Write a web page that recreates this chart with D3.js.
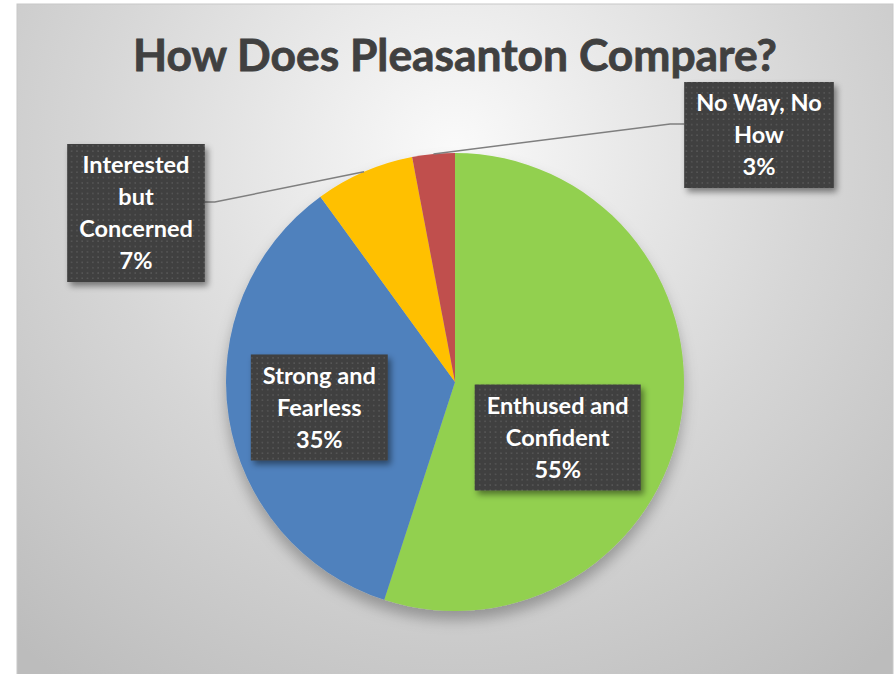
<!DOCTYPE html>
<html>
<head>
<meta charset="utf-8">
<script src="https://cdn.jsdelivr.net/npm/d3@7"></script>
<style>
  body { margin: 0; background: #fff; }
  svg { display: block; }
  text { font-family: Lato, "Open Sans", sans-serif; font-weight: bold; }
</style>
</head>
<body>
<script>
const width = 896;
const height = 674;

// data
const categories = ['Enthused and Confident', 'Strong and Fearless', 'Interested but Concerned', 'No Way, No How'];
const values = [55, 35, 7, 3];
const labelLines = [
  ['Enthused and', 'Confident'],
  ['Strong and', 'Fearless'],
  ['Interested', 'but', 'Concerned'],
  ['No Way, No', 'How'],
];
const colors = ['#92d050', '#4f81bd', '#ffc000', '#c0504d'];

const title = 'How Does Pleasanton Compare?';

// layout
const cx = 455;
const cy = 382;
const radius = 229;
const lineHeight = 32;
const labelFont = 23.5;
// label placement: inside labels nudge off the centroid, outside ones sit at a fixed spot
const labelPlace = [
  { inside: true, dx: -33, dy: 34 },
  { inside: true, dx: 0, dy: 4 },
  { inside: false, x: 136, y: 213, side: 'left' },
  { inside: false, x: 759, y: 135, side: 'right' },
];

const svg = d3.select('body')
  .append('svg')
    .attr('width', width)
    .attr('height', height);

const defs = svg.append('defs');

const bg = defs.append('radialGradient')
  .attr('id', 'bg')
  .attr('gradientUnits', 'userSpaceOnUse')
  .attr('cx', cx).attr('cy', 150).attr('r', 660);
bg.append('stop').attr('offset', 0).attr('stop-color', '#fafafa');
bg.append('stop').attr('offset', 0.55).attr('stop-color', '#d6d6d6');
bg.append('stop').attr('offset', 1).attr('stop-color', '#bcbcbc');

const dots = defs.append('pattern')
  .attr('id', 'dots')
  .attr('patternUnits', 'userSpaceOnUse')
  .attr('width', 5.3).attr('height', 5.3);
dots.append('rect').attr('width', 5.3).attr('height', 5.3).attr('fill', '#3f3f3f');
dots.append('rect').attr('x', 2).attr('y', 2).attr('width', 1.5).attr('height', 1.5).attr('fill', '#5a5a5a');

const pieShadow = defs.append('filter').attr('id', 'pieShadow')
  .attr('x', '-20%').attr('y', '-20%').attr('width', '140%').attr('height', '140%');
pieShadow.append('feDropShadow')
  .attr('dx', 0).attr('dy', 9).attr('stdDeviation', 7)
  .attr('flood-color', '#000').attr('flood-opacity', 0.28);

const boxShadow = defs.append('filter').attr('id', 'boxShadow')
  .attr('x', '-20%').attr('y', '-20%').attr('width', '140%').attr('height', '140%');
boxShadow.append('feDropShadow')
  .attr('dx', 3).attr('dy', 4).attr('stdDeviation', 3)
  .attr('flood-color', '#000').attr('flood-opacity', 0.45);

// chart area
svg.append('rect')
  .attr('x', 17).attr('y', 4)
  .attr('width', 876).attr('height', height)
  .attr('fill', 'url(#bg)')
  .attr('stroke', '#c8c8c8')
  .attr('stroke-width', 1);

// title
const titleText = svg.append('text')
  .attr('x', cx)
  .attr('y', 71)
  .attr('text-anchor', 'middle')
  .attr('fill', '#404040')
  .attr('stroke', '#404040')
  .attr('stroke-width', 0.8)
  .style('font-size', '42px')
  .text(title);
const tw = titleText.node().getComputedTextLength();
titleText.style('font-size', (42 * 644 / tw) + 'px');

const pie = d3.pie()
  .sort(null)
  .value((d) => d);

const arcs = pie(values);

const arc = d3.arc()
  .innerRadius(0)
  .outerRadius(radius);

const labelArc = d3.arc()
  .innerRadius(radius * 0.6)
  .outerRadius(radius * 0.6);

const g = svg.append('g')
  .attr('transform', `translate(${cx},${cy})`);

g.append('g')
  .attr('filter', 'url(#pieShadow)')
  .selectAll('path')
  .data(arcs)
  .join('path')
    .attr('d', arc)
    .attr('fill', (d, i) => colors[i]);

const midAngle = (d) => (d.startAngle + d.endAngle) / 2;

const labels = svg.append('g');

arcs.forEach((d, i) => {
  const lines = labelLines[i].concat([values[i] + '%']);
  const place = labelPlace[i];
  let bx, by;
  if (place.inside) {
    const c = labelArc.centroid(d);
    bx = cx + c[0] + place.dx;
    by = cy + c[1] + place.dy;
  } else {
    bx = place.x;
    by = place.y;
  }

  const grp = labels.append('g');
  const rect = grp.append('rect')
    .attr('fill', 'url(#dots)')
    .attr('filter', 'url(#boxShadow)');

  const texts = grp.selectAll('text')
    .data(lines)
    .join('text')
      .attr('x', bx)
      .attr('y', (t, j) => by + (j - (lines.length - 1) / 2) * lineHeight)
      .attr('dy', '0.36em')
      .attr('text-anchor', 'middle')
      .attr('fill', '#fff')
      .style('font-size', labelFont + 'px')
      .text((t) => t);

  let maxW = 0;
  texts.each(function () { maxW = Math.max(maxW, this.getComputedTextLength()); });
  const bw = maxW + 24;
  const bh = lines.length * lineHeight + 10;
  rect
    .attr('x', bx - bw / 2)
    .attr('y', by - bh / 2)
    .attr('width', bw)
    .attr('height', bh);

  if (!place.inside) {
    const a = midAngle(d);
    const p0 = [cx + Math.sin(a) * radius, cy - Math.cos(a) * radius];
    const edge = place.side === 'left' ? bx + bw / 2 : bx - bw / 2;
    const bendX = place.side === 'left' ? edge + 10 : edge - 14;
    const p1 = [bendX, by - 11];
    const p2 = [edge, by - 11];
    labels.insert('polyline', ':first-child')
      .attr('points', [p0, p1, p2].join(' '))
      .attr('fill', 'none')
      .attr('stroke', '#7f7f7f')
      .attr('stroke-width', 1.5);
  }
});
</script>
</body>
</html>
